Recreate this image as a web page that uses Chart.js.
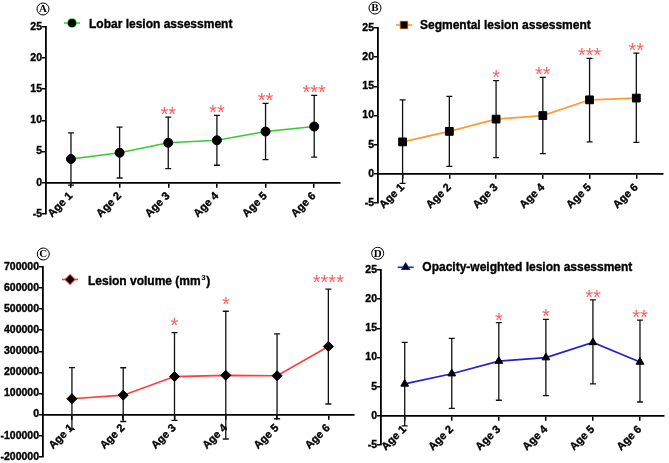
<!DOCTYPE html>
<html><head><meta charset="utf-8">
<script src="https://cdn.jsdelivr.net/npm/chart.js@4.4.1/dist/chart.umd.min.js"></script>
<style>
html,body{margin:0;padding:0;background:#fff;width:669px;height:463px;overflow:hidden;}
canvas{position:absolute;}
</style></head><body>
<canvas id="cA" width="345" height="232" style="left:0;top:0;width:345px;height:232px"></canvas>
<canvas id="cB" width="334" height="232" style="left:335px;top:0;width:334px;height:232px"></canvas>
<canvas id="cC" width="360" height="231" style="left:0;top:232px;width:360px;height:231px"></canvas>
<canvas id="cD" width="334" height="231" style="left:335px;top:232px;width:334px;height:231px"></canvas>
<script>
// ---- data ----
const ageLabels = ['Age 1', 'Age 2', 'Age 3', 'Age 4', 'Age 5', 'Age 6'];

const lobarMean  = [3.8, 4.8, 6.4, 6.8, 8.2, 9.0];
const lobarUpper = [8.0, 8.9, 10.5, 10.8, 12.7, 14.0];
const lobarLower = [-0.4, 0.75, 2.25, 2.8, 3.7, 4.1];
const lobarSig   = ['', '', '**', '**', '**', '***'];

const segMean  = [5.5, 7.3, 9.4, 10.0, 12.7, 13.0];
const segUpper = [12.7, 13.3, 16.0, 16.55, 19.8, 20.7];
const segLower = [-1.6, 1.3, 2.8, 3.5, 5.5, 5.4];
const segSig   = ['', '', '*', '**', '***', '**'];

const volMean  = [75000, 92000, 180000, 186000, 184000, 323000];
const volUpper = [223000, 222000, 389000, 490000, 383000, 595000];
const volLower = [-70000, -33000, -28000, -116000, -20000, 50000];
const volSig   = ['', '', '*', '*', '', '****'];

const owMean  = [5.5, 7.25, 9.4, 10.0, 12.6, 9.25];
const owUpper = [12.6, 13.3, 16.0, 16.55, 19.9, 16.4];
const owLower = [-1.7, 1.3, 2.7, 3.5, 5.5, 2.4];
const owSig   = ['', '', '*', '*', '**', '**'];

const scoreTicks  = [-5, 0, 5, 10, 15, 20, 25];
const volumeTicks = [-200000, -100000, 0, 100000, 200000, 300000, 400000, 500000, 600000, 700000];

// ---- drawing helpers ----
const FONT = '"Liberation Sans", Arial, sans-serif';

const errorBarPlugin = {
  id: 'errorBars',
  beforeDatasetsDraw(chart, args, opts) {
    const ctx = chart.ctx, xs = chart.scales.x, ys = chart.scales.y;
    ctx.save();
    ctx.strokeStyle = '#111';
    ctx.lineWidth = 1.3;
    opts.upper.forEach((u, i) => {
      const x = xs.getPixelForValue(i + 1);
      const yu = ys.getPixelForValue(u), yl = ys.getPixelForValue(opts.lower[i]);
      ctx.beginPath();
      ctx.moveTo(x, yu); ctx.lineTo(x, yl);
      ctx.moveTo(x - 3, yu); ctx.lineTo(x + 3, yu);
      ctx.moveTo(x - 3, yl); ctx.lineTo(x + 3, yl);
      ctx.stroke();
    });
    ctx.restore();
  }
};

const decoPlugin = {
  id: 'deco',
  afterDraw(chart, args, o) {
    const ctx = chart.ctx, xs = chart.scales.x, ys = chart.scales.y;
    ctx.save();
    // significance stars
    ctx.fillStyle = '#ff6060';
    ctx.font = '20px ' + FONT;
    ctx.textAlign = 'center';
    ctx.textBaseline = 'alphabetic';
    o.sig.forEach((s, i) => {
      if (!s) return;
      const x = xs.getPixelForValue(i + 1);
      const yc = ys.getPixelForValue(o.upper[i]) - o.starGap;
      ctx.fillText(s, x, yc + 11.5);
    });
    // circled panel letter
    ctx.strokeStyle = '#000';
    ctx.lineWidth = 1;
    ctx.fillStyle = '#000';
    ctx.beginPath();
    ctx.arc(o.letter.x, o.letter.y, 6, 0, Math.PI * 2);
    ctx.stroke();
    ctx.font = 'bold 11px "Liberation Serif", "Times New Roman", serif';
    ctx.textAlign = 'center';
    ctx.textBaseline = 'middle';
    ctx.fillText(o.letter.t, o.letter.x, o.letter.y + 0.5);
    // legend
    const L = o.legend;
    ctx.strokeStyle = o.color;
    ctx.lineWidth = 1.6;
    ctx.beginPath();
    ctx.moveTo(L.mx - 8, L.my); ctx.lineTo(L.mx + 8, L.my);
    ctx.stroke();
    Chart.helpers.drawPoint(ctx, {pointStyle: o.point, radius: o.radius, borderWidth: 1}, L.mx, L.my);
    ctx.fill();
    ctx.font = 'bold 12px ' + FONT;
    ctx.textAlign = 'left';
    ctx.textBaseline = 'alphabetic';
    ctx.fillStyle = '#000';
    ctx.strokeStyle = '#000';
    ctx.lineWidth = 0.35;
    ctx.fillText(L.text, L.tx, L.ty);
    ctx.strokeText(L.text, L.tx, L.ty);
    if (L.sup) {
      let w = ctx.measureText(L.text).width;
      ctx.font = 'bold 8px ' + FONT;
      ctx.fillText(L.sup, L.tx + w + 0.5, L.ty - 5);
      const w2 = ctx.measureText(L.sup).width;
      ctx.font = 'bold 12px ' + FONT;
      ctx.fillText(L.after, L.tx + w + w2 + 1, L.ty);
      ctx.strokeText(L.after, L.tx + w + w2 + 1, L.ty);
    }
    ctx.restore();
  }
};

function makePanel(id, c) {
  return new Chart(document.getElementById(id), {
    type: 'line',
    data: {
      datasets: [{
        data: c.mean.map((v, i) => ({x: i + 1, y: v})),
        borderColor: c.color,
        borderWidth: 1.6,
        pointStyle: c.point,
        pointRadius: c.radius,
        pointBackgroundColor: '#000',
        pointBorderColor: '#000',
        pointBorderWidth: 1,
        tension: 0
      }]
    },
    options: {
      responsive: false,
      animation: false,
      devicePixelRatio: 1,
      layout: {padding: c.pad},
      plugins: {
        legend: {display: false},
        tooltip: {enabled: false},
        errorBars: {upper: c.upper, lower: c.lower},
        deco: {sig: c.sig, upper: c.upper, starGap: c.starGap, letter: c.letter, legend: c.legend,
               color: c.color, point: c.point, radius: c.legendRadius}
      },
      scales: {
        x: {
          type: 'linear', min: c.xmin, max: c.xmax, position: {y: 0},
          afterBuildTicks: s => { s.ticks = ageLabels.map((_, i) => ({value: i + 1})); },
          afterFit: s => { s.height = 0; },
          ticks: {
            callback: v => ageLabels[Math.round(v) - 1],
            minRotation: 45, maxRotation: 45, autoSkip: false,
            font: {family: FONT, size: 11, weight: 'bold'}, color: '#000', padding: 3,
            textStrokeColor: '#000', textStrokeWidth: 0.35
          },
          grid: {drawOnChartArea: false, drawTicks: true, tickLength: 4, color: '#000', lineWidth: 1.5},
          border: {color: '#000', width: 1.8}
        },
        y: {
          min: c.ticks[0], max: c.ticks[c.ticks.length - 1],
          afterBuildTicks: s => { s.ticks = c.ticks.map(v => ({value: v})); },
          afterFit: s => { s.width = c.yw; },
          ticks: {
            callback: v => String(v),
            font: {family: FONT, size: 10.5, weight: 'bold'}, color: '#000', padding: 0,
            textStrokeColor: '#000', textStrokeWidth: 0.35
          },
          grid: {drawOnChartArea: false, drawTicks: true, tickLength: 4, color: '#000', lineWidth: 1.5},
          border: {color: '#000', width: 1.8}
        }
      }
    },
    plugins: [errorBarPlugin, decoPlugin]
  });
}

makePanel('cA', {
  mean: lobarMean, upper: lobarUpper, lower: lobarLower, sig: lobarSig, ticks: scoreTicks,
  color: '#33cc33', point: 'circle', radius: 4.5, legendRadius: 4,
  xmin: 0.487, xmax: 6.52, yw: 46, pad: {top: 26.7, right: 5, bottom: 18.1, left: 0},
  starGap: 8, letter: {x: 43, y: 9, t: 'A'},
  legend: {mx: 72, my: 23, tx: 89, ty: 27.5, text: 'Lobar lesion assessment'}
});
makePanel('cB', {
  mean: segMean, upper: segUpper, lower: segLower, sig: segSig, ticks: scoreTicks,
  color: '#ff9933', point: 'rect', radius: 5.5, legendRadius: 5,
  xmin: 0.474, xmax: 6.56, yw: 43, pad: {top: 28, right: 2, bottom: 28.8, left: 0},
  starGap: 8, letter: {x: 40, y: 8, t: 'B'},
  legend: {mx: 69, my: 25, tx: 85, ty: 29, text: 'Segmental lesion assessment'}
});
makePanel('cC', {
  mean: volMean, upper: volUpper, lower: volLower, sig: volSig, ticks: volumeTicks,
  color: '#ff3b3b', point: 'rectRot', radius: 5, legendRadius: 4.5,
  xmin: 0.436, xmax: 6.5, yw: 43, pad: {top: 35, right: 5, bottom: 6, left: 0},
  starGap: 12, letter: {x: 43.3, y: 22, t: 'C'},
  legend: {mx: 70, my: 47.5, tx: 88, ty: 53, text: 'Lesion volume (mm', sup: '3', after: ')'}
});
makePanel('cD', {
  mean: owMean, upper: owUpper, lower: owLower, sig: owSig, ticks: scoreTicks,
  color: '#2222cc', point: 'triangle', radius: 4.5, legendRadius: 4,
  xmin: 0.496, xmax: 6.5, yw: 46, pad: {top: 38, right: 2, bottom: 17.8, left: 0},
  starGap: 7.5, letter: {x: 42.7, y: 21.3, t: 'D'},
  legend: {mx: 70.7, my: 35.3, tx: 87.3, ty: 38.7, text: 'Opacity-weighted lesion assessment'}
});
</script>
</body></html>
